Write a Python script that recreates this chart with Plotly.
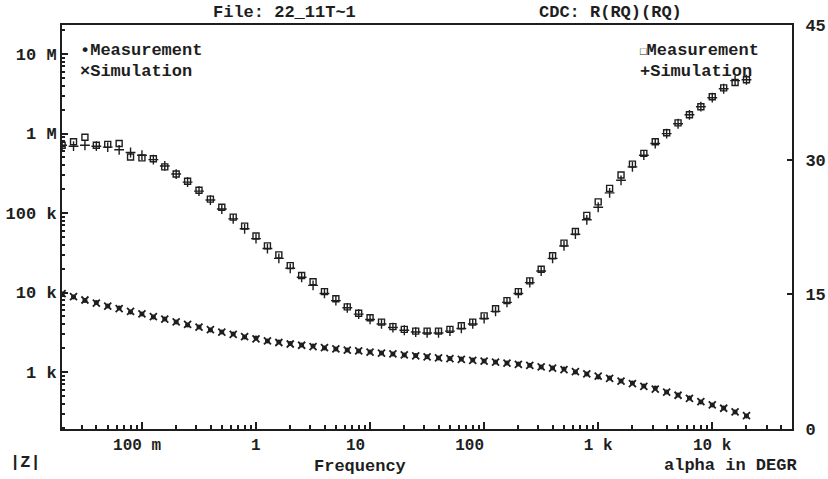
import plotly.graph_objects as go

# ---- data ----
freq = [0.02, 0.02518, 0.0317, 0.03991, 0.05024, 0.06325, 0.07962, 0.1002, 0.1262, 0.1589,
        0.2, 0.2518, 0.317, 0.3991, 0.5024, 0.6325, 0.7962, 1.002, 1.262, 1.589,
        2.0, 2.518, 3.17, 3.991, 5.024, 6.325, 7.962, 10.02, 12.62, 15.89,
        20.0, 25.18, 31.7, 39.91, 50.24, 63.25, 79.62, 100.2, 126.2, 158.9,
        200.0, 251.8, 317.0, 399.1, 502.4, 632.5, 796.2, 1002, 1262, 1589,
        2000, 2518, 3170, 3991, 5024, 6325, 7962, 10024, 12619, 15887, 20000]

z_meas = [9570, 8790, 7930, 7480, 6760, 6380, 5690, 5370, 4920, 4640,
          4260, 3900, 3680, 3380, 3190, 3000, 2750, 2680, 2450, 2380,
          2280, 2190, 2120, 2000, 1950, 1890, 1840, 1790, 1730, 1680,
          1640, 1610, 1550, 1500, 1480, 1460, 1420, 1380, 1340, 1300,
          1260, 1220, 1160, 1120, 1090, 1000, 944, 865, 841, 771,
          728, 667, 630, 561, 514, 471, 420, 385, 353, 314, 280]

z_sim = [9700, 8850, 8050, 7350, 6750, 6250, 5800, 5370, 4980, 4620,
         4280, 3970, 3680, 3410, 3180, 2970, 2780, 2610, 2470, 2350,
         2250, 2170, 2090, 2020, 1950, 1890, 1840, 1780, 1730, 1690,
         1640, 1600, 1550, 1510, 1470, 1440, 1400, 1370, 1330, 1290,
         1250, 1210, 1160, 1120, 1070, 1010, 950, 885, 830, 770,
         715, 660, 610, 560, 510, 465, 425, 385, 350, 315, 283]

phase_meas = [31.6, 32.0, 32.5, 31.6, 31.7, 31.8, 30.3, 30.2, 30.1, 29.2,
              28.4, 27.6, 26.6, 25.6, 24.7, 23.6, 22.6, 21.5, 20.4, 19.4,
              18.2, 17.1, 16.4, 15.3, 14.5, 13.6, 12.9, 12.4, 11.9, 11.4,
              11.1, 10.9, 10.9, 10.9, 11.1, 11.5, 11.9, 12.6, 13.4, 14.3,
              15.3, 16.5, 17.8, 19.3, 20.7, 22.0, 23.8, 25.3, 26.8, 28.3,
              29.5, 30.7, 32.0, 33.0, 34.1, 35.0, 35.9, 37.0, 38.0, 38.6, 38.9]

phase_sim = [31.6, 31.5, 31.6, 31.5, 31.4, 31.1, 30.8, 30.5, 30.0, 29.3,
             28.4, 27.5, 26.5, 25.5, 24.5, 23.4, 22.3, 21.2, 20.1, 19.0,
             17.9, 16.9, 16.0, 15.1, 14.3, 13.5, 12.8, 12.2, 11.7, 11.3,
             11.0, 10.8, 10.7, 10.7, 10.9, 11.2, 11.7, 12.3, 13.1, 14.1,
             15.1, 16.3, 17.6, 19.0, 20.4, 21.7, 23.3, 24.7, 26.3, 27.7,
             29.2, 30.5, 31.8, 32.9, 34.0, 35.0, 35.9, 36.9, 37.9, 38.8, 38.9]

x_tickvals = [0.1, 1, 10, 100, 1000, 10000]
x_ticktext = ["100 m\u00a0", "1", "10\u00a0\u00a0\u00a0", "100\u00a0\u00a0\u00a0", "1 k", "10 k"]
y_tickvals = [1e3, 1e4, 1e5, 1e6, 1e7]
y_ticktext = ["1 k", "10 k", "100 k", "1 M", "10 M"]
phase_tickvals = [0, 15, 30, 45]

# ---- styling ----
W, H = 828, 479
L, R, T, B = 62, 36, 25, 50
INK = "#1e1e1e"
FONT = dict(family="Liberation Mono", size=17, color=INK, weight="bold")
XFONT = dict(family="Liberation Mono", size=16, color=INK, weight="bold")


def minor_vals(lo, hi):
    vals = []
    for e in range(lo, hi + 1):
        for m in range(2, 10):
            vals.append(m * 10 ** e)
    return vals


def px(xp):
    return (xp - L) / (W - L - R)


def py(yp):
    return (H - B - yp) / (H - T - B)


fig = go.Figure()
fig.add_trace(go.Scatter(x=freq, y=z_meas, mode="markers", name="Measurement",
                         marker=dict(symbol="circle", size=5, color=INK)))
fig.add_trace(go.Scatter(x=freq, y=z_sim, mode="markers", name="Simulation",
                         marker=dict(symbol="x-thin", size=7, line=dict(width=1.8, color=INK))))
fig.add_trace(go.Scatter(x=freq, y=phase_meas, mode="markers", name="Measurement", yaxis="y2",
                         marker=dict(symbol="square-open", size=6, color=INK, line=dict(width=1.4))))
fig.add_trace(go.Scatter(x=freq, y=phase_sim, mode="markers", name="Simulation", yaxis="y2",
                         marker=dict(symbol="cross-thin", size=7, line=dict(width=1.4, color=INK))))

fig.update_layout(
    width=W, height=H,
    margin=dict(l=L, r=R, t=T, b=B, pad=0),
    paper_bgcolor="white", plot_bgcolor="white",
    showlegend=False,
    font=FONT,
    xaxis=dict(type="log", range=[-1.70, 4.70], showgrid=False, zeroline=False,
               automargin=False,
               showline=True, linewidth=2, linecolor=INK, mirror=True,
               ticks="inside", ticklen=7, tickwidth=1.5, tickcolor=INK,
               tickvals=x_tickvals, ticktext=x_ticktext, tickfont=XFONT,
               ticklabelstandoff=0,
               minor=dict(ticks="inside", ticklen=4, tickwidth=1.5, tickcolor=INK,
                          tickvals=minor_vals(-2, 4), showgrid=False)),
    yaxis=dict(type="log", range=[2.283, 7.365], showgrid=False, zeroline=False,
               automargin=False,
               showline=True, linewidth=2, linecolor=INK,
               ticks="inside", ticklen=6, tickwidth=1.5, tickcolor=INK,
               tickvals=y_tickvals, ticktext=y_ticktext, tickfont=FONT,
               ticklabelstandoff=0,
               minor=dict(ticks="inside", ticklen=3, tickwidth=1.5, tickcolor=INK,
                          tickvals=minor_vals(2, 7), showgrid=False)),
    yaxis2=dict(overlaying="y", side="right", range=[0, 45], showgrid=False, zeroline=False,
                automargin=False,
                showline=True, linewidth=2, linecolor=INK,
                ticks="inside", ticklen=5, tickwidth=1.5, tickcolor=INK,
                tickvals=phase_tickvals, tickfont=FONT, ticklabelstandoff=8),
)

ann = [
    ("File: 22_11T~1", 284, 13, "center"),
    ("CDC: R(RQ)(RQ)", 610, 13, "center"),
    ("•Measurement", 78, 51, "left"),
    ("×Simulation", 78, 71, "left"),
    ("<span style='font-size:11px'>□</span>Measurement", 638, 51, "left"),
    ("+Simulation", 638, 71, "left"),
    ("|Z|", 8, 462, "left"),
    ("Frequency", 360, 466, "center"),
    ("alpha in DEGR", 799, 465, "right"),
]
for text, xp, yp, anchor in ann:
    fig.add_annotation(text=text, x=px(xp), y=py(yp), xref="paper", yref="paper",
                       xanchor=anchor, yanchor="middle", showarrow=False, font=FONT)

fig.write_html("out.html")
